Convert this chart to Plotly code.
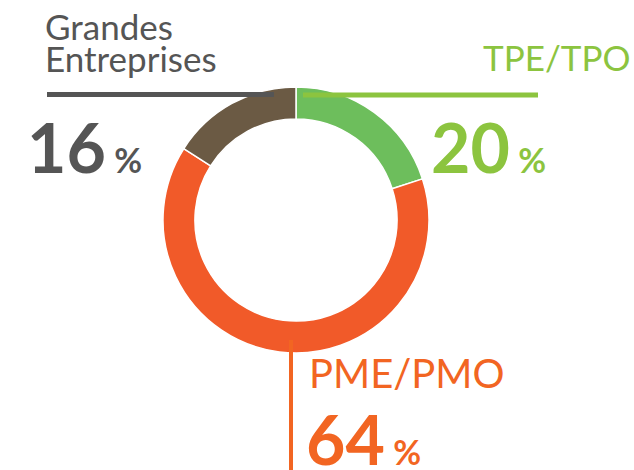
import plotly.graph_objects as go

labels = ["TPE/TPO", "PME/PMO", "Grandes Entreprises"]
label_lines = [["TPE/TPO"], ["PME/PMO"], ["Grandes", "Entreprises"]]
values = [20, 64, 16]
slice_colors = ["#6DBE5C", "#F15A29", "#6B5A44"]
text_colors = ["#8CC43F", "#F26522", "#555555"]

W, H = 634, 470
cx, cy, r = 296, 220, 133

def px(x):
    return x / W

def py(y):
    return 1 - y / H

fig = go.Figure(go.Pie(
    labels=labels, values=values, sort=False, direction="clockwise", rotation=0,
    hole=0.76, marker=dict(colors=slice_colors, line=dict(color="white", width=1.5)),
    textinfo="none", hoverinfo="label+percent", showlegend=False,
    domain=dict(x=[px(cx - r), px(cx + r)], y=[py(cy + r), py(cy - r)]),
))

font = "Lato, Calibri, 'Open Sans', sans-serif"

shapes = [
    dict(type="line", xref="paper", yref="paper", x0=px(47), x1=px(274), y0=py(94.5), y1=py(94.5),
         line=dict(color=text_colors[2], width=5)),
    dict(type="line", xref="paper", yref="paper", x0=px(303), x1=px(538), y0=py(95), y1=py(95),
         line=dict(color=text_colors[0], width=5)),
    dict(type="line", xref="paper", yref="paper", x0=px(291), x1=px(291), y0=py(340), y1=py(472),
         line=dict(color=text_colors[1], width=4)),
]

def pct(v, size_big, size_small):
    return (f"<b><span style='font-size:{size_big}px'>{v}</span>"
            f"<span style='font-size:{size_small}px'> %</span></b>")

annotations = [
    dict(x=px(43), y=py(3), text=label_lines[2][0], xanchor="left", yanchor="top",
         font=dict(size=35, color=text_colors[2], family=font)),
    dict(x=px(43), y=py(35), text=label_lines[2][1], xanchor="left", yanchor="top",
         font=dict(size=35, color=text_colors[2], family=font)),
    dict(x=px(25), y=py(104), text=pct(values[2], 68, 34), xanchor="left", yanchor="top",
         font=dict(size=68, color=text_colors[2], family=font)),
    dict(x=px(632), y=py(34), text=label_lines[0][0], xanchor="right", yanchor="top",
         font=dict(size=35, color=text_colors[0], family=font)),
    dict(x=px(429), y=py(104), text=pct(values[0], 68, 34), xanchor="left", yanchor="top",
         font=dict(size=68, color=text_colors[0], family=font)),
    dict(x=px(307), y=py(347), text=label_lines[1][0], xanchor="left", yanchor="top",
         font=dict(size=40, color=text_colors[1], family=font)),
    dict(x=px(304), y=py(396), text=pct(values[1], 68, 34), xanchor="left", yanchor="top",
         font=dict(size=68, color=text_colors[1], family=font)),
]
for a in annotations:
    a.update(xref="paper", yref="paper", showarrow=False)

fig.update_layout(
    width=W, height=H, margin=dict(l=0, r=0, t=0, b=0),
    paper_bgcolor="white", plot_bgcolor="white",
    shapes=shapes, annotations=annotations,
)

fig.write_html("out.html", config={"displayModeBar": False},
               post_script="document.body.style.margin='0';document.body.style.overflow='hidden';")
